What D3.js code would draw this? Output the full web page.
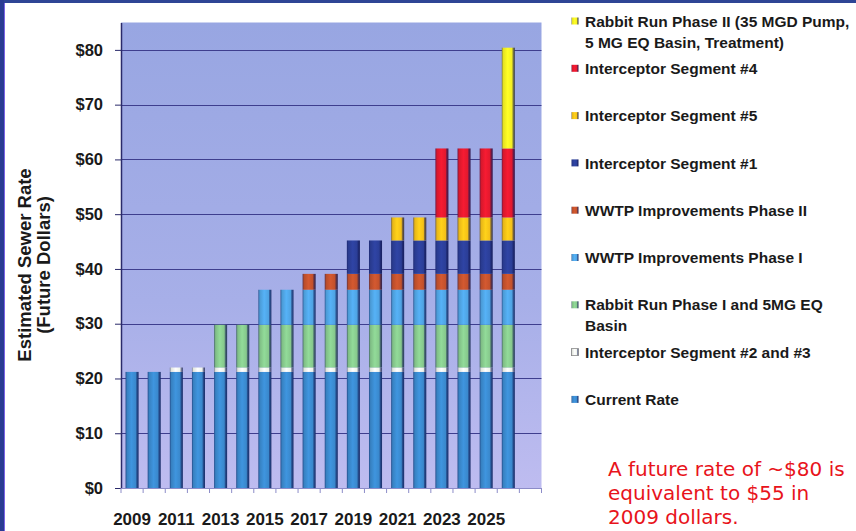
<!DOCTYPE html>
<html>
<head>
<meta charset="utf-8">
<script src="https://cdn.jsdelivr.net/npm/d3@7"></script>
<style>
  html, body { margin: 0; padding: 0; background: #fff; }
  svg { display: block; }
</style>
</head>
<body>
<svg id="chart" width="856" height="531"></svg>
<script>
// Years on the category axis (the last slot stays empty)
const years = ["2009","2010","2011","2012","2013","2014","2015","2016","2017","2018",
               "2019","2020","2021","2022","2023","2024","2025","2026","2027"];
const tickYears = ["2009","2011","2013","2015","2017","2019","2021","2023","2025"];
const yTicks = [0, 10, 20, 30, 40, 50, 60, 70, 80];

// Rate components per year, bottom of the stack first ($/unit, future dollars)
const currentRate   = [21.2,21.2,21.2,21.2,21.2,21.2,21.2,21.2,21.2,21.2,21.2,21.2,21.2,21.2,21.2,21.2,21.2,21.2,0];
const segment2and3  = [0,0,0.8,0.8,0.8,0.8,0.8,0.8,0.8,0.8,0.8,0.8,0.8,0.8,0.8,0.8,0.8,0.8,0];
const rabbitRunI    = [0,0,0,0,7.8,7.8,7.8,7.8,7.8,7.8,7.8,7.8,7.8,7.8,7.8,7.8,7.8,7.8,0];
const wwtpPhaseI    = [0,0,0,0,0,0,6.4,6.4,6.4,6.4,6.4,6.4,6.4,6.4,6.4,6.4,6.4,6.4,0];
const wwtpPhaseII   = [0,0,0,0,0,0,0,0,2.9,2.9,2.9,2.9,2.9,2.9,2.9,2.9,2.9,2.9,0];
const segment1      = [0,0,0,0,0,0,0,0,0,0,6.1,6.1,6.1,6.1,6.1,6.1,6.1,6.1,0];
const segment5      = [0,0,0,0,0,0,0,0,0,0,0,0,4.2,4.2,4.2,4.2,4.2,4.2,0];
const segment4      = [0,0,0,0,0,0,0,0,0,0,0,0,0,0,12.6,12.6,12.6,12.6,0];
const rabbitRunII   = [0,0,0,0,0,0,0,0,0,0,0,0,0,0,0,0,0,18.4,0];

const seriesKeys = ["current","seg23","rr1","wwtp1","wwtp2","seg1","seg5","seg4","rr2"];
const seriesValues = [currentRate, segment2and3, rabbitRunI, wwtpPhaseI, wwtpPhaseII,
                      segment1, segment5, segment4, rabbitRunII];
const seriesColors = ["#3a88cc","#eef3ea","#86c88c","#4fa3e2","#c2512c",
                      "#2b3e97","#f4c018","#e2192e","#f3ee22"];
// Legend lists the series top of stack first
const legendLabels = {
  rr2:   ["Rabbit Run Phase II (35 MGD Pump,", "5 MG EQ Basin, Treatment)"],
  seg4:  ["Interceptor Segment #4"],
  seg5:  ["Interceptor Segment #5"],
  seg1:  ["Interceptor Segment #1"],
  wwtp2: ["WWTP Improvements Phase II"],
  wwtp1: ["WWTP Improvements Phase I"],
  rr1:   ["Rabbit Run Phase I and 5MG EQ", "Basin"],
  seg23: ["Interceptor Segment #2 and #3"],
  current: ["Current Rate"]
};
const noteLines = ["A future rate of ~$80 is", "equivalent to $55 in", "2009 dollars."];

const svg = d3.select("#chart");
const W = 856, H = 531;
const plot = { left: 121, right: 541.5, top: 22.5, bottom: 488 };

const rows = years.map((yr, i) => {
  const r = { year: yr };
  seriesKeys.forEach((k, j) => r[k] = seriesValues[j][i]);
  return r;
});
const stacked = d3.stack().keys(seriesKeys)(rows);
const color = d3.scaleOrdinal().domain(seriesKeys).range(seriesColors);

const x = d3.scaleBand().domain(years).range([plot.left, plot.right])
  .paddingInner(0.41).paddingOuter(0.205);
const y = d3.scaleLinear().domain([0, 85]).range([plot.bottom, plot.top]);

const defs = svg.append("defs");
const bg = defs.append("linearGradient").attr("id", "plotBg")
  .attr("x1", 0).attr("y1", 0).attr("x2", 0).attr("y2", 1);
bg.append("stop").attr("offset", "0%").attr("stop-color", "#98a6e2");
bg.append("stop").attr("offset", "60%").attr("stop-color", "#a7afe8");
bg.append("stop").attr("offset", "100%").attr("stop-color", "#bebcf0");

// Cylinder-like shading for each series
seriesKeys.forEach(k => {
  const c = d3.color(color(k));
  const g = defs.append("linearGradient").attr("id", "grad-" + k)
    .attr("x1", 0).attr("y1", 0).attr("x2", 1).attr("y2", 0);
  const navy = d3.interpolateRgb(c, "#141a55");
  [[0, navy(0.55)], [0.12, c.darker(0.15)], [0.45, c.brighter(0.25)],
   [0.78, c], [0.86, navy(0.5)], [1, navy(0.85)]].forEach(([o, col]) =>
    g.append("stop").attr("offset", o).attr("stop-color", col));
});

// Page background
svg.append("rect").attr("width", W).attr("height", H).attr("fill", "#fff");

// Plot area
svg.append("rect").attr("x", plot.left).attr("y", plot.top)
  .attr("width", plot.right - plot.left).attr("height", plot.bottom - plot.top)
  .attr("fill", "url(#plotBg)");

// Gridlines
svg.append("g").selectAll("line").data(yTicks.filter(d => d > 0)).join("line")
  .attr("x1", plot.left).attr("x2", plot.right)
  .attr("y1", d => Math.round(y(d)) + 0.5).attr("y2", d => Math.round(y(d)) + 0.5)
  .attr("stroke", "#3e3e8e").attr("stroke-width", 1.2);

// Stacked bars
svg.append("g").selectAll("g").data(stacked).join("g")
  .attr("fill", d => "url(#grad-" + d.key + ")")
  .selectAll("rect").data(d => d.filter(s => s[1] - s[0] > 0)).join("rect")
  .attr("x", d => x(d.data.year))
  .attr("width", x.bandwidth())
  .attr("y", d => y(d[1]))
  .attr("height", d => y(d[0]) - y(d[1]));

// Y axis
const yAxis = svg.append("g").attr("transform", `translate(${plot.left},0)`)
  .call(d3.axisLeft(y).tickValues(yTicks).tickFormat(d => "$" + d).tickSize(6).tickSizeOuter(0).tickPadding(12));
yAxis.select(".domain").attr("stroke", "#2a2a6a").attr("stroke-width", 1.5);
yAxis.selectAll(".tick line").attr("stroke", "#2a2a6a");
yAxis.selectAll(".tick text")
  .attr("font-family", "Liberation Sans, Arial, sans-serif")
  .attr("font-weight", "bold").attr("font-size", 16.5).attr("fill", "#1a1a1a");

// X axis: tick marks at category boundaries, labels every other year
const half = (x.step() - x.bandwidth()) / 2;
const bounds = years.map(d => x(d) - half).concat([x(years[years.length - 1]) + x.bandwidth() + half]);
svg.append("line").attr("x1", plot.left).attr("x2", plot.right)
  .attr("y1", plot.bottom + 0.5).attr("y2", plot.bottom + 0.5)
  .attr("stroke", "#8c8cc8").attr("stroke-width", 1);
svg.append("g").selectAll("line").data(bounds).join("line")
  .attr("x1", d => d).attr("x2", d => d)
  .attr("y1", plot.bottom).attr("y2", plot.bottom + 5)
  .attr("stroke", "#8c8cc8");
const xAxis = svg.append("g").attr("transform", `translate(0,${plot.bottom})`)
  .call(d3.axisBottom(x).tickValues(tickYears).tickSize(0).tickPadding(25));
xAxis.select(".domain").remove();
xAxis.selectAll(".tick text")
  .attr("font-family", "Liberation Sans, Arial, sans-serif")
  .attr("font-weight", "bold").attr("font-size", 17).attr("fill", "#1a1a1a");

// Y axis title
const yTitle = svg.append("g").attr("transform", "translate(0,265) rotate(-90)")
  .attr("font-family", "Liberation Sans, Arial, sans-serif")
  .attr("font-weight", "bold").attr("font-size", 18.5).attr("fill", "#1a1a1a")
  .attr("text-anchor", "middle");
yTitle.append("text").attr("x", 0).attr("y", 31).text("Estimated Sewer Rate");
yTitle.append("text").attr("x", 0).attr("y", 50).text("(Future Dollars)");

// Legend
const legendOrder = seriesKeys.slice().reverse();
const legend = svg.append("g")
  .attr("font-family", "Liberation Sans, Arial, sans-serif")
  .attr("font-weight", "bold").attr("font-size", 15.5).attr("fill", "#1a1a1a");
legendOrder.forEach((k, i) => {
  const cy = 21 + i * 47.3;
  const item = legend.append("g");
  item.append("rect").attr("x", 571.5).attr("y", cy - 3.5).attr("width", 7).attr("height", 7)
    .attr("fill", "url(#grad-" + k + ")")
    .attr("stroke", k === "seg23" ? "#8a8a8a" : "none").attr("stroke-width", 0.8);
  legendLabels[k].forEach((line, j) => {
    item.append("text").attr("x", 585).attr("y", cy + 5.6 + j * 21).text(line);
  });
});

// Note
svg.append("g").attr("font-family", "DejaVu Sans, Verdana, sans-serif")
  .attr("font-size", 20).attr("fill", "#e8131b")
  .selectAll("text").data(noteLines).join("text")
  .attr("x", 608).attr("y", (d, i) => 476 + i * 24).text(d => d);

// Slide border (top and left edges)
svg.append("rect").attr("x", 0).attr("y", 0).attr("width", W).attr("height", 3).attr("fill", "#2e4595");
svg.append("rect").attr("x", 0).attr("y", 0).attr("width", 4).attr("height", H).attr("fill", "#2a3b93");
svg.append("line").attr("x1", 4.5).attr("x2", 4.5).attr("y1", 3).attr("y2", H)
  .attr("stroke", "#7b63e6").attr("stroke-width", 1);
</script>
</body>
</html>
